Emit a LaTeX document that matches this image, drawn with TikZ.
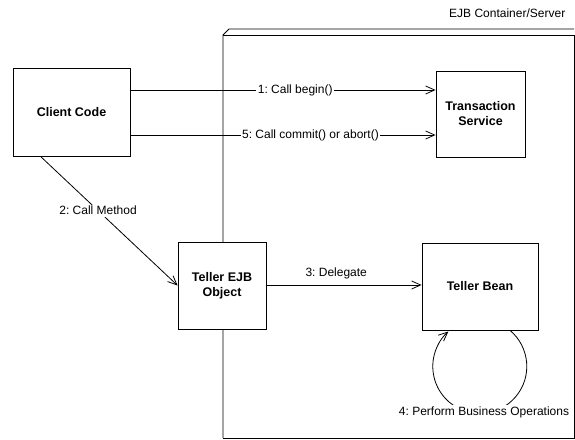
\documentclass[tikz,border=0pt]{standalone}
\usepackage{fontspec}
\setmainfont{Liberation Sans}
\usetikzlibrary{arrows.meta,positioning,calc}
\frenchspacing
\tikzset{
  ejbd/.style={x=1pt, y=1pt, font=\fontsize{12}{14}\selectfont, line width=0.8pt},
  e box/.style={draw, fill=white, align=center, inner sep=1mm,
                font=\fontsize{12.5}{15}\selectfont\bfseries},
  e arr/.style={-{Straight Barb[length=9pt, width=8pt]}},
  e lab/.style={fill=white, inner sep=1.5pt},
  e cont/.style={line width=0.9pt},
}
\begin{document}
\begin{tikzpicture}[ejbd]
\useasboundingbox (0, 0) rectangle (575, -439);
% ---- container ----
\draw[e cont] (223, -438) -- (223, -35) -- (229, -29) -- (574, -29);
\draw[e cont] (223, -35) -- (574, -35);
\draw[e cont] (223, -438) -- (574, -438) -- (574, -35);
\node[anchor=east] (cname) at (569, -13) {EJB Container/Server};
% ---- objects ----
\node[e box, minimum width=117, minimum height=88] (client) at (71.5, -112) {Client Code};
\node[e box, minimum width=89, minimum height=86] (tx) at (480.5, -114) {Transaction\\Service};
\node[e box, minimum width=88, minimum height=87] (ejbo) at (222, -285.5) {Teller EJB\\Object};
\node[e box, minimum width=116, minimum height=87] (bean) at (480, -286.5) {Teller Bean};
% ---- messages ----
\draw[e arr] (client.east |- 0, -90) -- node[e lab, pos=0.54]{1: Call begin()} (tx.west |- 0, -90);
\draw[e arr] (client.east |- 0, -135) -- node[e lab, pos=0.59]{5: Call commit() or abort()} (tx.west |- 0, -135);
\draw[e arr] ([xshift=-31pt]client.south) -- node[e lab, pos=0.42]{2: Call Method} (ejbo.west);
\draw[e arr] (ejbo.east |- 0, -285) -- node[above=2pt, pos=0.45]{3: Delegate} (bean.west |- 0, -285);
\draw[e arr] ([xshift=30pt]bean.south) arc[start angle=50, end angle=-228, radius=47];
\node[e lab] (ops) at (484, -412) {4: Perform Business Operations};
\end{tikzpicture}
\end{document}
